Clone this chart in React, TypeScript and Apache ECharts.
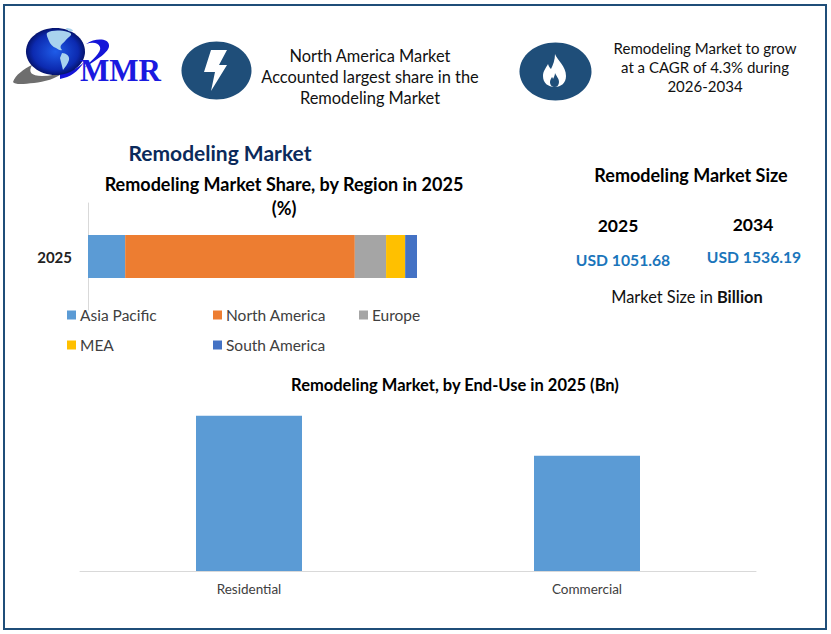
import React, { useEffect, useRef } from "react";
import * as echarts from "echarts";

const regions = ["Asia Pacific", "North America", "Europe", "MEA", "South America"];
const regionShare = [11.3, 69.8, 9.5, 5.8, 3.6];
const regionColors = ["#5b9bd5", "#ed7d31", "#a5a5a5", "#ffc000", "#4472c4"];
const shareYears = ["2025"];

const endUses = ["Residential", "Commercial"];
const endUseValues = [604, 448];

const headerLeft = "North America Market\nAccounted largest share in the\nRemodeling Market";
const headerRight = "Remodeling Market to grow\nat a CAGR of 4.3% during\n2026-2034";

const FONT = "Lato, 'Open Sans', sans-serif";
const ICON_BLUE = "#1f4e79";

// logo and icon outlines
echarts.graphic.registerShape(
  "flameOuter",
  echarts.graphic.extendPath(
    "M555 54 C557 60 566 66 566 76 C566 83 561 87 555 87 C548 87 543 83 543 76 C543 71 546 68 548 64 C549 67 550 68 551 69 C553 65 555 60 555 54Z",
    {}
  )
);
echarts.graphic.registerShape(
  "flameInner",
  echarts.graphic.extendPath(
    "M555 73 C556 76 559 78 559 82 C559 85 557 87 555 87 C552 87 550 85 550 82 C550 80 551 79 552 77 C553 78 553 79 553 79 C554 77 555 75 555 73Z",
    {}
  )
);
echarts.graphic.registerShape(
  "swoosh",
  echarts.graphic.extendPath(
    "M13 82 C15 75 24 69 32 65 C28 72 31 76 42 76 C50 76 58 74 66 71 C56 79 44 82 34 83 C24 84 15 85 13 82Z",
    {}
  )
);
echarts.graphic.registerShape(
  "swooshBlue",
  echarts.graphic.extendPath(
    "M60 74 C70 72 78 68 84 62 C78 72 70 77 60 79Z M86 44 C95 38 108 38 109 45 C110 52 96 60 84 68 C92 60 102 52 100 47 C98 42 92 42 86 44Z",
    {}
  )
);
echarts.graphic.registerShape(
  "continents",
  echarts.graphic.extendPath(
    "M47 33 C52 30 60 30 68 32 C72 33 72 35 69 37 C66 39 65 42 62 44 C60 46 60 48 62 50 C60 51 58 49 56 48 C53 47 50 44 49 41 C48 38 46 35 47 33Z M62 53 C66 53 70 56 69 60 C68 64 65 67 63 70 C62 66 61 62 60 58Z M66 28 C69 28 73 29 73 31 C70 32 67 31 66 28Z",
    {}
  )
);

const App: React.FC = () => {
  const chartRef = useRef<HTMLDivElement>(null);

  useEffect(() => {
    if (!chartRef.current) return;
    const chart = echarts.init(chartRef.current, undefined, { renderer: "svg" });

    const legendSpots = [
      { left: 67, top: 307 },
      { left: 213, top: 307 },
      { left: 359, top: 307 },
      { left: 67, top: 337 },
      { left: 213, top: 337 },
    ];

    const option = {
      animation: false,
      backgroundColor: "#ffffff",
      title: [
        {
          text: "Remodeling Market Share, by Region in 2025\n(%)",
          left: 279,
          top: 167,
          textAlign: "center",
          textStyle: { fontFamily: FONT, fontSize: 18, fontWeight: "bold", color: "#000", lineHeight: 24 },
        },
        {
          text: "Remodeling Market, by End-Use in 2025 (Bn)",
          left: 450,
          top: 371,
          textAlign: "center",
          textStyle: { fontFamily: FONT, fontSize: 16.5, fontWeight: "bold", color: "#000" },
        },
      ],
      legend: regions.map((name, i) => ({
        data: [name],
        left: legendSpots[i].left,
        top: legendSpots[i].top,
        padding: 0,
        itemWidth: 9,
        itemHeight: 9,
        itemGap: 0,
        icon: "rect",
        textStyle: { fontFamily: FONT, fontSize: 15.5, color: "#404040", padding: [0, 0, 0, -1] },
        selectedMode: false,
      })),
      grid: [
        { left: 88, top: 203, width: 329, height: 107 },
        { left: 80, top: 391, width: 676, height: 180 },
      ],
      xAxis: [
        { type: "value", gridIndex: 0, min: 0, max: 100, show: false },
        {
          type: "category",
          gridIndex: 1,
          data: endUses,
          axisTick: { show: false },
          axisLine: { lineStyle: { color: "#d9d9d9" } },
          axisLabel: { fontFamily: FONT, fontSize: 13.5, color: "#404040", margin: 11 },
        },
      ],
      yAxis: [
        {
          type: "category",
          gridIndex: 0,
          data: shareYears,
          axisTick: { show: false },
          axisLine: { lineStyle: { color: "#d9d9d9" } },
          axisLabel: { fontFamily: FONT, fontSize: 15, fontWeight: "bold", color: "#222", margin: 16 },
        },
        { type: "value", gridIndex: 1, min: 0, max: 700, show: false },
      ],
      series: [
        ...regions.map((name, i) => ({
          name,
          type: "bar",
          stack: "share",
          xAxisIndex: 0,
          yAxisIndex: 0,
          barWidth: 43,
          itemStyle: { color: regionColors[i] },
          data: [regionShare[i]],
        })),
        {
          name: "End-Use",
          type: "bar",
          xAxisIndex: 1,
          yAxisIndex: 1,
          barWidth: 106,
          itemStyle: { color: "#5b9bd5" },
          data: endUseValues,
        },
      ],
      graphic: [
        { type: "rect", silent: true, shape: { x: 4, y: 5, width: 822, height: 624 }, style: { fill: "none", stroke: "#1f4e79", lineWidth: 2 } },
        // logo
        { type: "swoosh", style: { fill: "#6e6e6e" } },
        { type: "swooshBlue", style: { fill: "#1515d8" } },
        {
          type: "ellipse",
          shape: { cx: 55.5, cy: 51.5, rx: 29.5, ry: 23.5 },
          style: {
            fill: new echarts.graphic.RadialGradient(0.5, 0.5, 0.55, [
              { offset: 0, color: "#1f5ce8" },
              { offset: 0.7, color: "#0c2ab0" },
              { offset: 1, color: "#020a50" },
            ]),
          },
        },
        { type: "continents", style: { fill: "#a9d3ee" } },
        {
          type: "text",
          x: 80,
          y: 55,
          style: { text: "MMR", fontFamily: "'Liberation Serif', serif", fontSize: 31, fontWeight: "bold", fill: "#1a1ae0" },
        },
        // header icons
        { type: "ellipse", shape: { cx: 216.5, cy: 70.5, rx: 35, ry: 29 }, style: { fill: ICON_BLUE } },
        {
          type: "polygon",
          shape: { points: [[211, 50], [227, 50], [219, 65], [227, 65], [211, 91], [215, 72], [204, 72]] },
          style: { fill: "#ffffff" },
        },
        { type: "ellipse", shape: { cx: 555.5, cy: 71.5, rx: 36, ry: 29 }, style: { fill: ICON_BLUE } },
        { type: "flameOuter", style: { fill: "#ffffff" } },
        { type: "flameInner", style: { fill: ICON_BLUE } },
        // header text
        {
          type: "text",
          x: 370,
          y: 76,
          style: { text: headerLeft, fontFamily: FONT, fontSize: 16.4, lineHeight: 21, fill: "#111", align: "center", verticalAlign: "middle" },
        },
        {
          type: "text",
          x: 705,
          y: 67,
          style: { text: headerRight, fontFamily: FONT, fontSize: 15, lineHeight: 19, fill: "#111", align: "center", verticalAlign: "middle" },
        },
        // headings and market size panel
        {
          type: "text",
          x: 220,
          y: 152,
          style: { text: "Remodeling Market", fontFamily: FONT, fontSize: 21, fontWeight: "bold", fill: "#0b2a5b", align: "center", verticalAlign: "middle" },
        },
        {
          type: "text",
          x: 691,
          y: 175,
          style: { text: "Remodeling Market Size", fontFamily: FONT, fontSize: 18, fontWeight: "bold", fill: "#000", align: "center", verticalAlign: "middle" },
        },
        {
          type: "text",
          x: 618,
          y: 225,
          style: { text: "2025", fontFamily: FONT, fontSize: 17.5, fontWeight: "bold", fill: "#000", align: "center", verticalAlign: "middle" },
        },
        {
          type: "text",
          x: 753,
          y: 224,
          style: { text: "2034", fontFamily: FONT, fontSize: 17.5, fontWeight: "bold", fill: "#000", align: "center", verticalAlign: "middle" },
        },
        {
          type: "text",
          x: 623,
          y: 260,
          style: { text: "USD 1051.68", fontFamily: FONT, fontSize: 15.7, fontWeight: "bold", fill: "#1a75bb", align: "center", verticalAlign: "middle" },
        },
        {
          type: "text",
          x: 754,
          y: 257,
          style: { text: "USD 1536.19", fontFamily: FONT, fontSize: 15.7, fontWeight: "bold", fill: "#1a75bb", align: "center", verticalAlign: "middle" },
        },
        {
          type: "text",
          x: 687,
          y: 296,
          style: {
            text: "{a|Market Size in }{b|Billion}",
            align: "center",
            verticalAlign: "middle",
            rich: {
              a: { fontFamily: FONT, fontSize: 16.4, fill: "#111" },
              b: { fontFamily: FONT, fontSize: 16.4, fontWeight: "bold", fill: "#111" },
            },
          },
        },
      ],
    };

    chart.setOption(option as any);
    return () => chart.dispose();
  }, []);

  return <div ref={chartRef} style={{ position: "fixed", left: 0, top: 0, width: 831, height: 634 }} />;
};

export default App;
